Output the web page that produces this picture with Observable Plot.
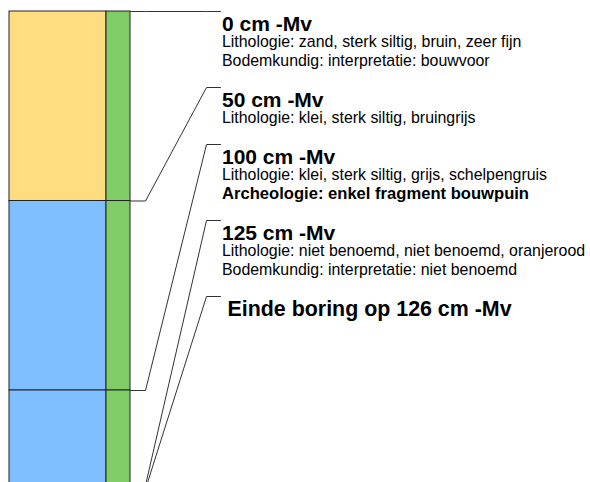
<!DOCTYPE html>
<html>
<head>
<meta charset="utf-8">
<script src="https://cdn.jsdelivr.net/npm/d3@7"></script>
<script src="https://cdn.jsdelivr.net/npm/@observablehq/plot@0.6"></script>
<style>
  body { margin: 0; background: white; }
</style>
</head>
<body>
<div id="chart"></div>
<script>
// ---- data ----
const layerTop = [0, 50, 100, 125];
const layerBottom = [50, 100, 125, 126];
const lithoColor = ["#FFDC80", "#80BFFF", "#80BFFF", "#E87848"];
const bodemColor = ["#80CC66", "#80CC66", "#80CC66", "#80CC66"];
const labelDepth = [0, 50, 100, 125, 126];
const labelTitle = ["0 cm -Mv", "50 cm -Mv", "100 cm -Mv", "125 cm -Mv", "Einde boring op 126 cm -Mv"];
const labelLines = [
  ["Lithologie: zand, sterk siltig, bruin, zeer fijn", "Bodemkundig: interpretatie: bouwvoor"],
  ["Lithologie: klei, sterk siltig, bruingrijs"],
  ["Lithologie: klei, sterk siltig, grijs, schelpengruis", "Archeologie: enkel fragment bouwpuin"],
  ["Lithologie: niet benoemd, niet benoemd, oranjerood", "Bodemkundig: interpretatie: niet benoemd"],
  []
];
const labelBold = [[false, false], [false], [false, true], [false, false], []];

// ---- layout ----
const W = 590, H = 482;
const FONT = "'Liberation Sans', Arimo, Arial, Helvetica, sans-serif";
const colL = 9, colM = 106, colR = 130, bendX = 145, diagX = 206, labX = 220, textX = 221.5, endTextX = 227;
const yTop = 11, pxPerCm = 3.79;
const yS = d3.scaleLinear([0, 126], [yTop, yTop + 126 * pxPerCm]);

const layers = layerTop.map((t, i) => ({top: t, bottom: layerBottom[i], litho: lithoColor[i], bodem: bodemColor[i]}));

// stacked label blocks
let cur = yTop;
const blocks = labelDepth.map((d, i) => {
  const b = {depth: d, px: cur, i};
  cur += 38 + 19 * labelLines[i].length;
  return b;
});

const connectors = [];
blocks.forEach(b => {
  connectors.push({k: b.i, x: colR, y: b.depth});
  connectors.push({k: b.i, x: bendX, y: b.depth});
  connectors.push({k: b.i, x: diagX, y: yS.invert(b.px)});
  connectors.push({k: b.i, x: labX, y: yS.invert(b.px)});
});

const last = blocks.length - 1;
const titles = blocks.map(b => ({
  x: b.i === last ? endTextX : textX,
  y: yS.invert(b.px + 19.7),
  text: labelTitle[b.i],
  end: b.i === last
}));
const lines = [];
blocks.forEach(b => labelLines[b.i].forEach((t, j) => lines.push({
  x: textX, y: yS.invert(b.px + 35.7 + 19 * j), text: t, bold: labelBold[b.i][j]
})));

const txt = {x: "x", y: "y", text: "text", textAnchor: "start", lineAnchor: "bottom", fontFamily: FONT, fill: "black"};

const chart = Plot.plot({
  width: W, height: H, margin: 0,
  style: {fontFamily: FONT, background: "white"},
  x: {domain: [0, W], range: [0, W], axis: null},
  y: {domain: yS.domain(), range: yS.range(), axis: null},
  marks: [
    Plot.rect(layers, {x1: colL, x2: colM, y1: "top", y2: "bottom", fill: "litho", stroke: "#222", strokeWidth: 1}),
    Plot.rect(layers, {x1: colM, x2: colR, y1: "top", y2: "bottom", fill: "bodem", stroke: "#222", strokeWidth: 1}),
    Plot.line(connectors, {x: "x", y: "y", z: "k", stroke: "#333", strokeWidth: 1, curve: "linear"}),
    Plot.text(titles.filter(d => !d.end), {...txt, fontSize: 21, fontWeight: "bold"}),
    Plot.text(titles.filter(d => d.end), {...txt, fontSize: 21.4, fontWeight: "bold"}),
    Plot.text(lines.filter(d => !d.bold), {...txt, fontSize: 15.9}),
    Plot.text(lines.filter(d => d.bold), {...txt, fontSize: 16.6, fontWeight: "bold"})
  ]
});
document.getElementById("chart").append(chart);
</script>
</body>
</html>
